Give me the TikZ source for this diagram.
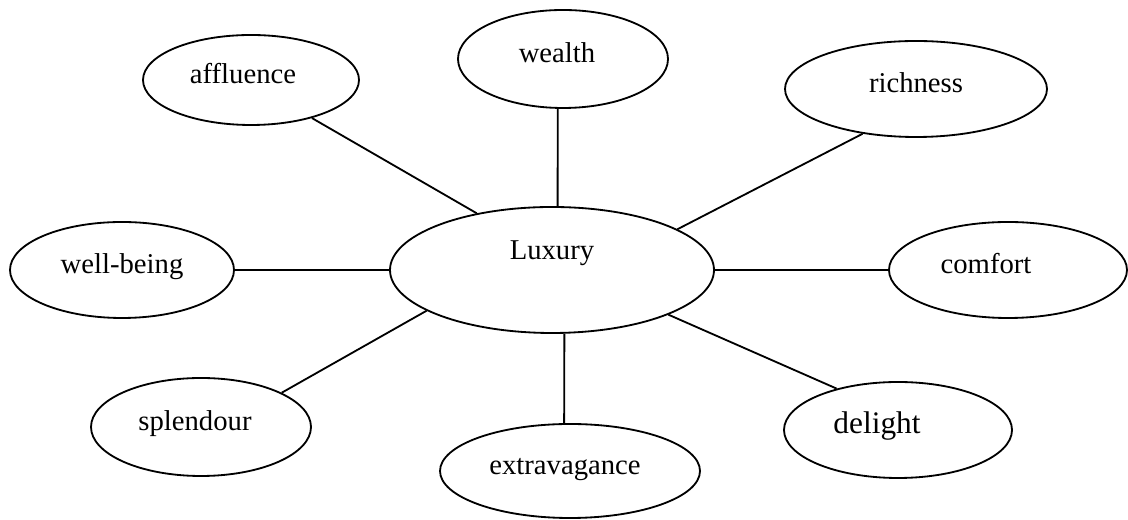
\documentclass[tikz,border=0pt]{standalone}
\usepackage{fontspec}
\setmainfont{Liberation Serif}
\usetikzlibrary{shapes.geometric}

\begin{document}
\begin{tikzpicture}[
        every node/.style={ellipse, draw, line width=1.3pt, inner sep=0pt,
            font=\fontsize{20.4}{24}\selectfont, text height=0.5cm, text depth=0.3cm},
        edge/.style={-, line width=1.3pt}
    ]
        \useasboundingbox (0,0) rectangle (28.2,13);

        % 椭圆布点
        \path
            (6.275,11.0)   node[minimum width=5.4cm,  minimum height=2.25cm] (affluence) {affluence\kern0.4cm}
            (14.075,11.525) node[minimum width=5.25cm, minimum height=2.45cm] (wealth) {wealth\kern0.3cm}
            (22.9,10.775)  node[minimum width=6.55cm, minimum height=2.4cm]  (richness) {richness}
            (3.05,6.25)    node[minimum width=5.6cm,  minimum height=2.4cm]  (wellbeing) {well-being}
            (13.8,6.25)    node[minimum width=8.1cm,  minimum height=3.15cm, text depth=1cm] (Luxury) {Luxury}
            (25.2,6.25)    node[minimum width=5.95cm, minimum height=2.4cm]  (comfort) {comfort\kern1.1cm}
            (5.025,2.325)  node[minimum width=5.5cm,  minimum height=2.45cm] (splendour) {splendour\kern0.3cm}
            (14.25,1.225)  node[minimum width=6.5cm,  minimum height=2.35cm] (extravagance) {extravagance\kern0.25cm}
            (22.45,2.25)   node[minimum width=5.7cm,  minimum height=2.4cm, font=\fontsize{22.3}{26}\selectfont] (delight) {delight\kern1.05cm};

        % 连线
        \draw[edge] (affluence.328) -- (Luxury.143);
        \draw[edge] (wealth.264) -- (Luxury.85);
        \draw[edge] (richness.220) -- (Luxury.18);
        \draw[edge] (wellbeing) -- (Luxury);
        \draw[edge] (Luxury) -- (comfort);
        \draw[edge] (splendour.23) -- (Luxury.198);
        \draw[edge] (Luxury.281) -- (extravagance.97);
        \draw[edge] (Luxury.339) -- (delight.146);
    \end{tikzpicture}
\end{document}
